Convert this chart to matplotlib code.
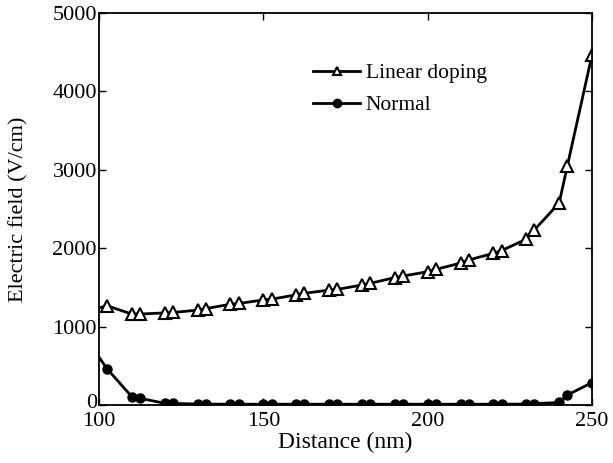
import matplotlib
matplotlib.use("Agg")
import matplotlib.pyplot as plt
import matplotlib.transforms as mtransforms

plt.rcParams['font.family'] = ['Liberation Serif', 'DejaVu Serif']
plt.rcParams['mathtext.fontset'] = 'stix'

x = [100, 102.5, 110, 112.5, 120, 122.5, 130, 132.5, 140, 142.5, 150, 152.5,
     160, 162.5, 170, 172.5, 180, 182.5, 190, 192.5, 200, 202.5, 210, 212.5,
     220, 222.5, 230, 232.5, 240, 242.5, 250]
linear = [1240, 1265, 1160, 1160, 1175, 1180, 1210, 1230, 1285, 1295, 1340, 1350,
          1405, 1425, 1465, 1475, 1530, 1552, 1625, 1645, 1700, 1730, 1810, 1850,
          1935, 1970, 2115, 2235, 2575, 3050, 4465]
normal = [610, 460, 105, 85, 22, 20, 12, 12, 10, 10, 10, 10,
          10, 10, 10, 10, 10, 10, 10, 10, 10, 10, 10, 10,
          10, 10, 12, 18, 32, 128, 285]

fig = plt.figure(figsize=(6.13, 4.63), dpi=100)
ax = fig.add_axes([99/613, 1-405/463, (592-99)/613, (405-13)/463])

ax.plot(x, linear, color='black', lw=2.0, marker='^', markersize=9,
        markerfacecolor='white', markeredgecolor='black', markeredgewidth=1.5,
        markevery=list(range(1, len(x))), label='Linear doping')
ax.plot(x, normal, color='black', lw=2.0, marker='o', markersize=6.5,
        markerfacecolor='black', markeredgecolor='black',
        markevery=list(range(1, len(x))), label='Normal')

ax.set_xlim(100, 250)
ax.set_ylim(0, 5000)
ax.set_xticks([100, 150, 200, 250])
ax.set_yticks([0, 1000, 2000, 3000, 4000, 5000])
ax.tick_params(direction='in', top=True, right=True, labelsize=16, length=5,
               width=1, pad=1.5)
ax.tick_params(axis='x', pad=5)
for s in ax.spines.values():
    s.set_linewidth(1.3)
ax.set_xlabel('Distance (nm)', fontsize=17, labelpad=1)
ax.set_ylabel('Electric field (V/cm)', fontsize=16, labelpad=17)

leg = ax.legend(loc='upper left', bbox_to_anchor=(0.434, 0.872), frameon=False,
                fontsize=15.5, handlelength=2.2, handletextpad=0.25,
                labelspacing=0.55, borderaxespad=0, borderpad=0)
for h in leg.legend_handles:
    h.set_markersize(6)

# raise the "0" label a little so it sits just above the "100" x label
fig.canvas.draw()
lab0 = ax.yaxis.get_major_ticks()[0].label1
lab0.set_transform(lab0.get_transform() +
                   mtransforms.ScaledTranslation(0, 4/100, fig.dpi_scale_trans))

fig.savefig('out.png', dpi=100)
